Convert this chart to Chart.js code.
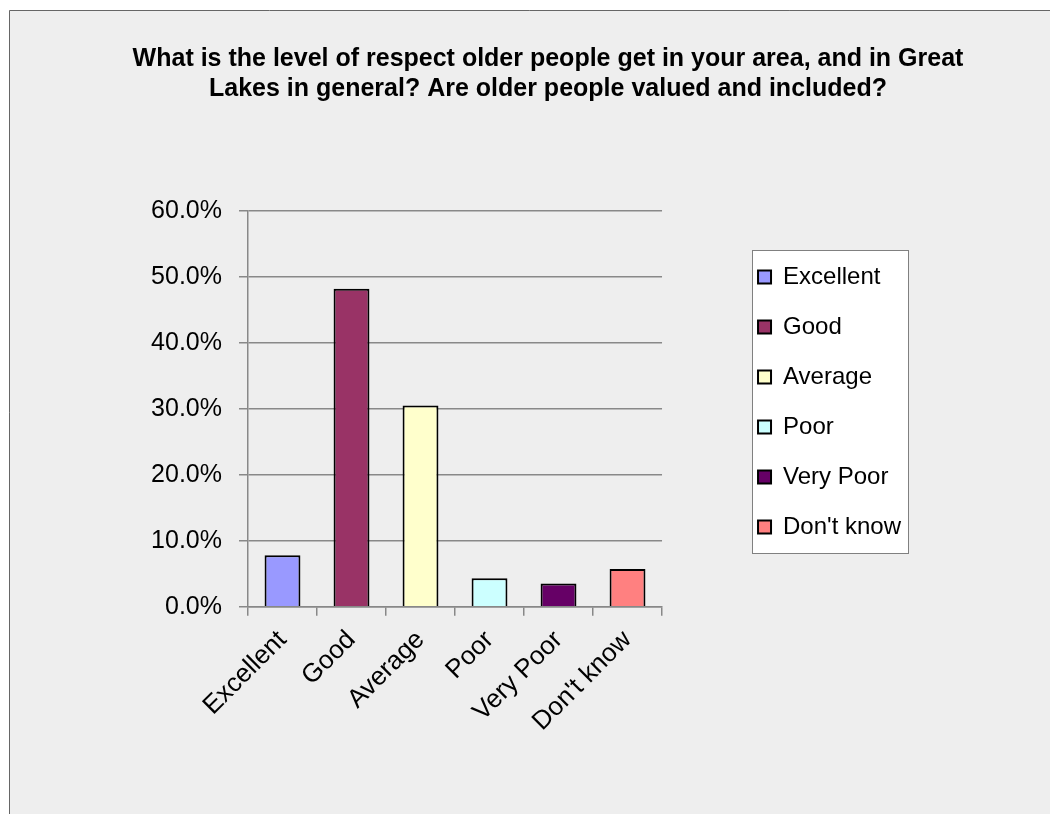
<!DOCTYPE html>
<html>
<head>
<meta charset="utf-8">
<script src="https://cdn.jsdelivr.net/npm/chart.js@4.4.1/dist/chart.umd.min.js"></script>
<style>
  html, body { margin: 0; padding: 0; background: #ffffff; }
  #c { display: block; }
</style>
</head>
<body>
<canvas id="c" width="1050" height="814"></canvas>
<script>
// ---- data ----
const titleLines = [
  'What is the level of respect older people get in your area, and in Great',
  'Lakes in general? Are older people valued and included?'
];
const categories = ['Excellent', 'Good', 'Average', 'Poor', 'Very Poor', "Don't know"];
const percentValues = [7.8, 48.2, 30.5, 4.3, 3.5, 5.7];
const barColors = ['#9999FF', '#993366', '#FFFFCC', '#CCFFFF', '#660066', '#FF8080'];
const yTickLabels = ['0.0%', '10.0%', '20.0%', '30.0%', '40.0%', '50.0%', '60.0%'];

const FONT = "'Liberation Sans', Arial, sans-serif";
const GRID = '#888888';

const bgPlugin = {
  id: 'bgPlugin',
  beforeDraw(chart) {
    const ctx = chart.ctx;
    ctx.save();
    ctx.fillStyle = '#ffffff';
    ctx.fillRect(0, 0, chart.width, chart.height);
    ctx.fillStyle = '#eeeeee';
    ctx.fillRect(9, 10, chart.width - 9, chart.height - 10);
    ctx.strokeStyle = '#666666';
    ctx.lineWidth = 1;
    ctx.beginPath();
    ctx.moveTo(9.5, chart.height);
    ctx.lineTo(9.5, 10.5);
    ctx.lineTo(chart.width, 10.5);
    ctx.stroke();
    // legend frame
    const lg = chart.legend;
    if (lg && lg.legendHitBoxes && lg.legendHitBoxes.length) {
      const hb = lg.legendHitBoxes;
      const left = hb[0].left - 6;
      let right = 0;
      hb.forEach(h => { right = Math.max(right, h.left + h.width); });
      right += 7;
      const top = hb[0].top - 15;
      const last = hb[hb.length - 1];
      const bottom = last.top + last.height + 14;
      ctx.fillStyle = '#ffffff';
      ctx.fillRect(Math.round(left), Math.round(top), Math.round(right - left), Math.round(bottom - top));
      ctx.strokeStyle = '#808080';
      ctx.strokeRect(Math.round(left) + 0.5, Math.round(top) + 0.5, Math.round(right - left), Math.round(bottom - top));
    }
    ctx.restore();
  }
};

new Chart(document.getElementById('c'), {
  type: 'bar',
  data: {
    labels: categories,
    datasets: [{
      data: percentValues,
      backgroundColor: barColors,
      borderColor: '#000000',
      borderWidth: 2,
      barPercentage: 0.52,
      categoryPercentage: 1.0
    }]
  },
  plugins: [bgPlugin],
  options: {
    responsive: false,
    animation: false,
    devicePixelRatio: 1,
    layout: { padding: { left: 56, right: 10, top: 0, bottom: 10 } },
    plugins: {
      tooltip: { enabled: false },
      title: {
        display: true,
        text: titleLines,
        color: '#000000',
        font: { family: FONT, size: 25, weight: 'bold', lineHeight: 30 / 25 },
        padding: { top: 44, bottom: 107 }
      },
      legend: {
        display: true,
        position: 'right',
        align: 'center',
        maxWidth: 400,
        labels: {
          color: '#000000',
          font: { family: FONT, size: 24 },
          boxWidth: 13,
          boxHeight: 13,
          padding: 26,
          generateLabels(chart) {
            const ds = chart.data.datasets[0];
            return chart.data.labels.map((l, i) => ({
              text: l,
              fillStyle: ds.backgroundColor[i],
              strokeStyle: '#000000',
              lineWidth: 2,
              hidden: false,
              index: i,
              fontColor: '#000000'
            }));
          }
        }
      }
    },
    scales: {
      x: {
        offset: true,
        grid: {
          display: true,
          drawOnChartArea: false,
          drawTicks: true,
          tickLength: 9,
          color: GRID,
          lineWidth: 1.5
        },
        border: { display: true, color: GRID, width: 1.5 },
        ticks: {
          color: '#000000',
          font: { family: FONT, size: 26 },
          minRotation: 45,
          maxRotation: 45,
          autoSkip: false,
          padding: 9
        },
        afterFit(scale) { scale.height = 197.3; }
      },
      y: {
        min: 0,
        max: 60,
        grid: {
          color: GRID,
          lineWidth: 1.5,
          tickLength: 9,
          drawTicks: true
        },
        border: { display: true, color: GRID, width: 1.5 },
        ticks: {
          stepSize: 10,
          color: '#000000',
          font: { family: FONT, size: 25 },
          padding: 17,
          callback(value, index) { return yTickLabels[index]; }
        },
        afterFit(scale) { scale.width = 192; }
      },
      gapInner: {
        type: 'linear',
        axis: 'y',
        position: 'right',
        weight: 0,
        display: true,
        grid: { display: false, drawTicks: false },
        border: { display: false },
        ticks: { display: false },
        afterFit(scale) { scale.width = 70; }
      },
      gapOuter: {
        type: 'linear',
        axis: 'y',
        position: 'right',
        weight: 2000,
        display: true,
        grid: { display: false, drawTicks: false },
        border: { display: false },
        ticks: { display: false },
        afterFit(scale) { scale.width = 129; }
      }
    }
  }
});
</script>
</body>
</html>
